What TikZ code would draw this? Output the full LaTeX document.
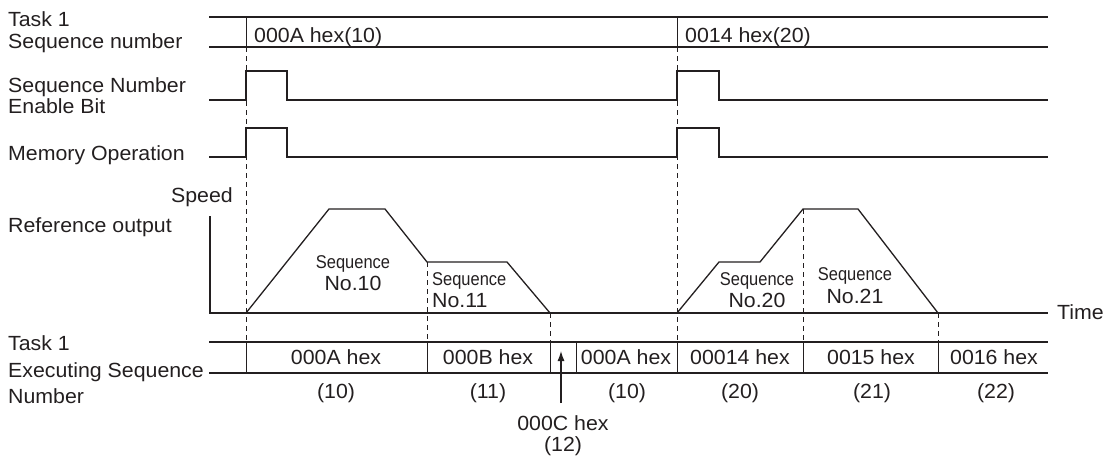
\documentclass[tikz,border=0pt]{standalone}
\usepackage{fontspec}
\setmainfont{Liberation Sans}[FakeStretch=1.04]
\newfontfamily\condfont{Liberation Sans}[FakeStretch=0.89]
\usetikzlibrary{arrows.meta}
\definecolor{ink}{RGB}{35,31,32}
\begin{document}
\begin{tikzpicture}[x=1pt,y=-1pt,
  txt/.style={inner sep=0pt,font=\fontsize{20.5}{22}\selectfont,text=ink},
  lbl/.style={txt,anchor=base west},
  ctr/.style={txt,anchor=base},
  seqw/.style={inner sep=0pt,font=\condfont\fontsize{18.5}{20}\selectfont,text=ink},
  rowline/.style={draw=ink,line width=1.5pt},
  wave/.style={draw=ink,line width=1.3pt,line join=miter},
  sepline/.style={draw=ink,line width=1pt},
  dashline/.style={draw=ink,line width=1pt,dash pattern=on 5pt off 4pt}
]
\useasboundingbox (0,0) rectangle (1108,458);

% ---------- left labels ----------
\node[lbl] (l1a) at (8,26) {Task 1};
\node[lbl] (l1b) at (8,48) {Sequence number};
\node[lbl] (l2a) at (8,92) {Sequence Number};
\node[lbl] (l2b) at (8,113) {Enable Bit};
\node[lbl] (l3) at (8,160) {Memory Operation};
\node[txt,anchor=base east] (spd) at (233,202) {Speed};
\node[lbl] (l4) at (8,232) {Reference output};
\node[lbl] (l5a) at (8,350) {Task 1};
\node[lbl] (l5b) at (8,377) {Executing Sequence};
\node[lbl] (l5c) at (8,403) {Number};

% ---------- dashed guide lines ----------
\draw[dashline] (246,47) -- (246,342);
\draw[dashline] (677,47) -- (677,342);
\draw[dashline] (427,262) -- (427,342);
\draw[dashline] (550,313) -- (550,342);
\draw[dashline] (803,209) -- (803,342);
\draw[dashline] (938,313) -- (938,342);

% ---------- task 1 sequence number row ----------
\draw[rowline] (209,17) -- (1048,17);
\draw[rowline] (209,47) -- (1048,47);
\draw[sepline] (246,17) -- (246,47);
\draw[sepline] (677,17) -- (677,47);
\node[lbl] (s10) at (254,42) {000A hex(10)};
\node[lbl] (s20) at (685,42) {0014 hex(20)};

% ---------- enable bit ----------
\draw[wave] (209,100) -- (246,100) -- (246,71) -- (287,71) -- (287,100)
  -- (677,100) -- (677,71) -- (719,71) -- (719,100) -- (1048,100);
% ---------- memory operation ----------
\draw[wave] (209,157) -- (246,157) -- (246,128) -- (287,128) -- (287,157)
  -- (677,157) -- (677,128) -- (719,128) -- (719,157) -- (1048,157);

% ---------- reference output ----------
\draw[wave] (210,216) -- (210,313) -- (1048,313);
\node[lbl] (tm) at (1057,319) {Time};
\draw[wave] (246,313) -- (329,209) -- (385,209) -- (427,262) -- (507,262) -- (550,313);
\draw[wave] (677,313) -- (719,262) -- (760,262) -- (803,209) -- (858,209) -- (938,313);

\node[seqw,anchor=base] (q10a) at (353,268) {Sequence};
\node[ctr] (q10b) at (353,290) {No.10};
\node[seqw,anchor=base west] (q11a) at (432,285) {Sequence};
\node[lbl] (q11b) at (432,307) {No.11};
\node[seqw,anchor=base] (q20a) at (757,285) {Sequence};
\node[ctr] (q20b) at (757,307) {No.20};
\node[seqw,anchor=base] (q21a) at (855,280) {Sequence};
\node[ctr] (q21b) at (855,303) {No.21};

% ---------- executing sequence number row ----------
\draw[rowline] (209,342) -- (1048,342);
\draw[rowline] (209,373) -- (1048,373);
\foreach \x in {246,427,550,576,677,803,938}
  \draw[sepline] (\x,342) -- (\x,373);

\node[ctr] (e1) at (336,364) {000A hex};
\node[ctr] (e2) at (488,364) {000B hex};
\node[ctr] (e3) at (626,364) {000A hex};
\node[ctr] (e4) at (740,364) {00014 hex};
\node[ctr] (e5) at (871,364) {0015 hex};
\node[ctr] (e6) at (994,364) {0016 hex};

\node[ctr] (n1) at (336,398) {(10)};
\node[ctr] (n2) at (488,398) {(11)};
\node[ctr] (n3) at (627,398) {(10)};
\node[ctr] (n4) at (740,398) {(20)};
\node[ctr] (n5) at (872,398) {(21)};
\node[ctr] (n6) at (996,398) {(22)};

\node[ctr] (c12a) at (563,430) {000C hex};
\node[ctr] (c12b) at (563,451) {(12)};
\coordinate (arrS) at (561,403);
\coordinate (arrT) at (561,351);
\draw[draw=ink,line width=1.2pt,-{Latex[length=10pt,width=7pt]}] (arrS) -- (arrT);
\end{tikzpicture}
\end{document}
